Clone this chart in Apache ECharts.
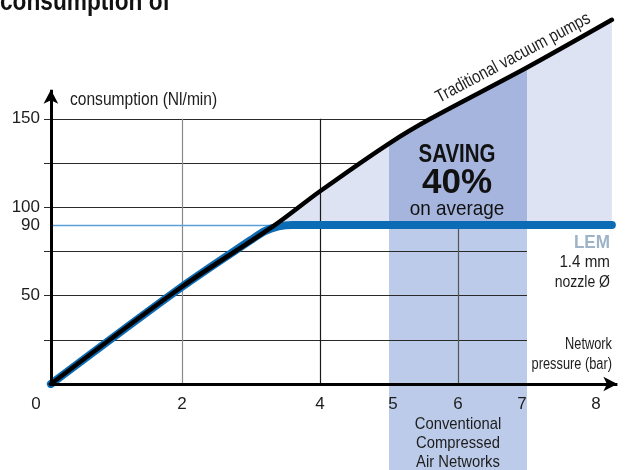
<!DOCTYPE html>
<html>
<head>
<meta charset="utf-8">
<script src="https://cdn.jsdelivr.net/npm/echarts@6/dist/echarts.min.js"></script>
<style>
  html, body { margin: 0; padding: 0; background: #fff; }
  #chart { width: 625px; height: 470px; }
</style>
</head>
<body>
<div id="chart"></div>
<script>
// values
const pressureLabels = [0, 2, 4, 5, 6, 7, 8];
const consumptionLabels = [50, 90, 100, 150];
const gridLevels = [25, 50, 75, 100, 125, 150];
const gridPressures = [2, 4, 6];
const traditionalPumps = [[0.1, 0], [2, 55], [3.35, 90], [4, 109], [5, 136], [5.6, 150], [7, 179], [8.23, 206]];
const lemNozzle = [[0.1, 0], [2, 55], [3.0, 81.5], [3.2, 86.5], [3.4, 89.2], [3.6, 90], [8.23, 90]];
const lemLevel = 90;
const conventionalRange = [5, 7];

const FONT = "'Liberation Sans', Arial, sans-serif";
const INK = "#1d1d1d";

const chart = echarts.init(document.getElementById("chart"), null, { renderer: "canvas" });

const labelNudge = { 0: "l16", 5: "r8", 7: "l10" };

function segment(a, b) {
  return [{ coord: a }, { coord: b }];
}

function markLineSeries(z, data, lineStyle, symbol) {
  return {
    type: "line",
    data: [],
    z: z,
    silent: true,
    markLine: {
      z: z,
      silent: true,
      animation: false,
      symbol: symbol || "none",
      symbolSize: [11, 14],
      label: { show: false },
      lineStyle: Object.assign({ type: "solid" }, lineStyle),
      emphasis: { disabled: true },
      data: data,
    },
  };
}

// condensed look: regular face squeezed horizontally
function label(text, x, y, size, opts) {
  const o = opts || {};
  return {
    type: "text",
    x: x,
    y: y,
    z: 20,
    scaleX: o.scaleX || 0.82,
    rotation: o.rotation || 0,
    silent: true,
    style: {
      text: text,
      font: `${o.bold ? "bold " : ""}${size}px ${FONT}`,
      fill: o.color || INK,
      align: o.align || "left",
      verticalAlign: "middle",
    },
  };
}

const xMax = 8.4;
const yMax = 215;
const pxPerX = 69;
const pxPerY = 1.768;
const originY = 384;
const axisText = { color: INK, fontFamily: FONT, fontSize: 17 };

const option = {
  animation: false,
  grid: [
    {
      left: 44,
      top: originY - yMax * pxPerY,
      width: xMax * pxPerX,
      height: yMax * pxPerY,
      outerBoundsMode: "none",
      containLabel: false,
    },
    // strip under the pressure axis, for the band label
    {
      left: 44,
      top: originY,
      width: xMax * pxPerX,
      height: 470 - originY,
      outerBoundsMode: "none",
      containLabel: false,
    },
  ],
  xAxis: [
    {
      type: "value",
      min: 0,
      max: xMax,
      interval: 1,
      z: 10,
      axisLine: { show: false },
      axisTick: { show: false },
      splitLine: { show: false },
      axisLabel: Object.assign({
        margin: 12,
        formatter: (v) => {
          if (!pressureLabels.includes(v)) return "";
          const nudge = labelNudge[v];
          return nudge ? "{" + nudge + "|" + v + "}" : String(v);
        },
        rich: {
          l16: Object.assign({ padding: [0, 16, 0, 0] }, axisText),
          r8: Object.assign({ padding: [0, 0, 0, 8] }, axisText),
          l10: Object.assign({ padding: [0, 10, 0, 0] }, axisText),
        },
      }, axisText),
    },
    { gridIndex: 1, type: "value", min: 0, max: xMax, show: false },
  ],
  yAxis: [
    {
      type: "value",
      min: 0,
      max: yMax,
      interval: 5,
      axisLine: { show: false },
      axisTick: { show: false },
      splitLine: { show: false },
      axisLabel: Object.assign({
        margin: 4,
        formatter: (v) => (consumptionLabels.includes(v) ? String(v) : ""),
      }, axisText),
    },
    { gridIndex: 1, type: "value", min: 0, max: 1, show: false },
  ],
  series: [
    // conventional compressed air networks band (below the LEM level)
    {
      type: "line",
      data: [],
      z: 1,
      silent: true,
      markArea: {
        z: 1,
        silent: true,
        itemStyle: { color: "#bccbe9" },
        data: [[{ coord: [conventionalRange[0], 0] }, { coord: [conventionalRange[1], lemLevel] }]],
      },
    },
    {
      type: "line",
      data: [],
      xAxisIndex: 1,
      yAxisIndex: 1,
      z: 1,
      silent: true,
      markArea: {
        z: 1,
        silent: true,
        itemStyle: { color: "#bccbe9" },
        data: [[{ coord: [conventionalRange[0], 0] }, { coord: [conventionalRange[1], 1] }]],
      },
    },
    // grid
    markLineSeries(
      2,
      gridLevels.map((v) => segment([0, v], [conventionalRange[1], v])),
      { color: "#2a2a2a", width: 1 }
    ),
    markLineSeries(2, [segment([gridPressures[0], 0], [gridPressures[0], 150])], { color: "#8a8a8a", width: 1.2 }),
    markLineSeries(2, [segment([gridPressures[2], 0], [gridPressures[2], 150])], { color: "#555", width: 1.2 }),
    // saving area
    {
      type: "line",
      z: 3,
      silent: true,
      symbol: "none",
      smooth: 0.3,
      lineStyle: { width: 0 },
      areaStyle: { color: "#dde3f2", opacity: 1, origin: lemLevel },
      data: traditionalPumps.filter((p) => p[0] >= 3.35),
    },
    {
      type: "line",
      z: 4,
      silent: true,
      symbol: "none",
      smooth: 0.3,
      lineStyle: { width: 0 },
      areaStyle: { color: "#a6b5de", opacity: 1, origin: lemLevel },
      data: traditionalPumps.filter((p) => p[0] >= conventionalRange[0] && p[0] <= conventionalRange[1]),
    },
    markLineSeries(5, [segment([gridPressures[1], 0], [gridPressures[1], 150])], { color: "#1a1a1a", width: 1.2 }),
    markLineSeries(5, [segment([0.1, lemLevel], [3.6, lemLevel])], { color: "#5b9fd6", width: 1.3 }),
    // LEM 1.4 mm nozzle
    {
      name: "LEM",
      type: "line",
      z: 6,
      silent: true,
      symbol: "none",
      smooth: 0.3,
      lineStyle: { color: "#0b6cb5", width: 8, cap: "round", join: "round" },
      data: lemNozzle,
    },
    // traditional vacuum pumps
    {
      name: "Traditional vacuum pumps",
      type: "line",
      z: 7,
      silent: true,
      symbol: "none",
      smooth: 0.3,
      lineStyle: { color: "#000", width: 4.5, cap: "round", join: "round" },
      data: traditionalPumps,
    },
    // axes with arrows
    markLineSeries(
      8,
      [segment([0.1, 0], [8.31, 0]), segment([0.1, 0], [0.1, 166.5])],
      { color: "#000", width: 3 },
      ["none", "arrow"]
    ),
  ],
  graphic: [
    label("consumption of", 0, 3, 27, { bold: true, scaleX: 0.84, color: "#111" }),
    label("consumption (Nl/min)", 70, 100, 19),
    label("Traditional vacuum pumps", 513, 58, 18, { align: "center", rotation: (28 * Math.PI) / 180 }),
    label("SAVING", 457, 155, 25, { bold: true, align: "center", color: "#111" }),
    label("40%", 457, 183, 35, { bold: true, align: "center", scaleX: 1, color: "#111" }),
    label("on average", 457, 209, 21, { align: "center", scaleX: 0.9, color: "#111" }),
    label("LEM", 610, 243, 19, { bold: true, align: "right", scaleX: 0.9, color: "#9db3c7" }),
    label("1.4 mm", 610, 262, 16.5, { align: "right", scaleX: 0.92 }),
    label("nozzle Ø", 610, 282, 16.5, { align: "right", scaleX: 0.85 }),
    label("Network", 612, 345, 16, { align: "right", scaleX: 0.8 }),
    label("pressure (bar)", 612, 365, 16, { align: "right", scaleX: 0.8 }),
    label("Conventional", 458, 424, 17, { align: "center", scaleX: 0.87 }),
    label("Compressed", 458, 443, 17, { align: "center", scaleX: 0.87 }),
    label("Air Networks", 458, 462, 17, { align: "center", scaleX: 0.87 }),
  ],
};

chart.setOption(option);
</script>
</body>
</html>
